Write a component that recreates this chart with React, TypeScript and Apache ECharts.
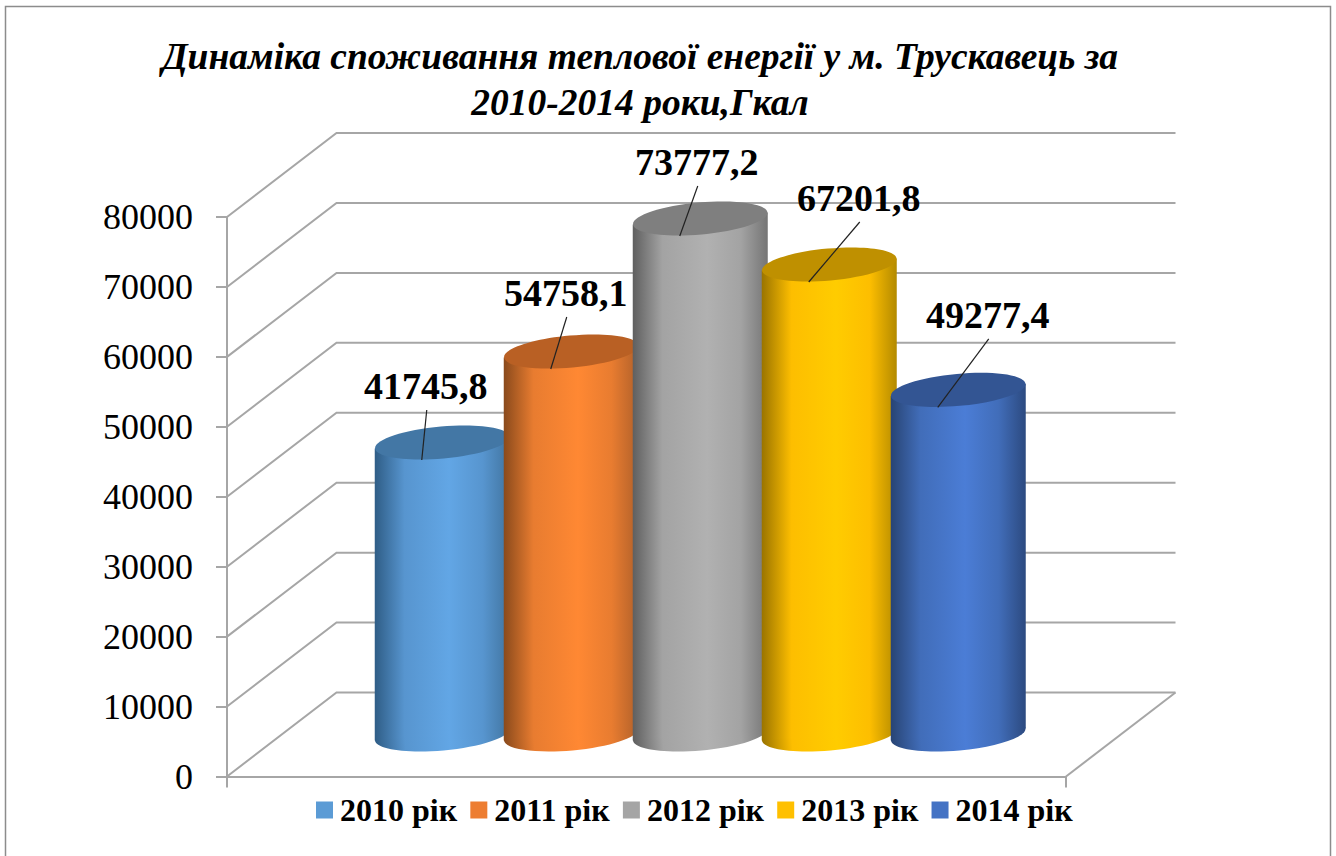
import React, { useEffect, useRef } from "react";
import * as echarts from "echarts";

const titleText = "Динаміка споживання теплової енергії у м. Трускавець за\n2010-2014 роки,Гкал";
const categories = [""];
const seriesNames = ["2010 рік", "2011 рік", "2012 рік", "2013 рік", "2014 рік"];
const seriesValues = [41745.8, 54758.1, 73777.2, 67201.8, 49277.4];
const valueLabels = ["41745,8", "54758,1", "73777,2", "67201,8", "49277,4"];
const yTicks = [0, 10000, 20000, 30000, 40000, 50000, 60000, 70000, 80000];

const legendColors = ["#5b9bd5", "#ed7d31", "#a5a5a5", "#ffc000", "#4472c4"];
const topColors = ["#4377a5", "#b96024", "#7f7f7f", "#bf9000", "#335593"];
const edgeDark = ["#2f5d86", "#8a4a1c", "#5f5f5f", "#9a7400", "#284474"];
const midColors = ["#5795cf", "#e87c30", "#a3a3a3", "#fdbe00", "#416db9"];
const peakColors = ["#62a6e5", "#ff8833", "#b1b1b1", "#ffcc00", "#4b7dd6"];
const edgeRight = ["#41749f", "#b0602a", "#757575", "#b38a00", "#2c4a80"];

// leader line start and label anchor, relative to each cylinder's top centre
const leaderDx = [-16.5, -5.5, -3.5, 29.5, 29.5];
const leaderDy = [-32.5, -34.5, -32.5, -42.5, -51];

const DEPTH_X = 109.5;
const DEPTH_Y = 84;
const PITCH = 129;
const RX = 67.5;
const RY = 16;
const TILT = 0.09;
const FONT = "'Liberation Serif', 'Times New Roman', serif";
const GRID_COLOR = "#a6a6a6";

function renderGrid(params: any, api: any) {
  const v = api.value(1);
  const y = api.coord([0, v])[1];
  const x0 = params.coordSys.x;
  const w = params.coordSys.width;
  const children: any[] = [
    {
      type: "polyline",
      shape: { points: [[x0, y], [x0 + DEPTH_X, y - DEPTH_Y], [x0 + w + DEPTH_X, y - DEPTH_Y]] },
      style: { stroke: GRID_COLOR, lineWidth: 2, fill: "none" },
    },
  ];
  if (v === 0) {
    children.push({
      type: "line",
      shape: { x1: x0 + w, y1: y, x2: x0 + w + DEPTH_X, y2: y - DEPTH_Y },
      style: { stroke: GRID_COLOR, lineWidth: 2 },
    });
  }
  return { type: "group", children };
}

function bodyGradient(i: number) {
  return new echarts.graphic.LinearGradient(0, 0, 1, 0, [
    { offset: 0, color: edgeDark[i] },
    { offset: 0.22, color: midColors[i] },
    { offset: 0.55, color: peakColors[i] },
    { offset: 0.8, color: midColors[i] },
    { offset: 1, color: edgeRight[i] },
  ]);
}

function makeCylinder(i: number) {
  return (_params: any, api: any) => {
    const val = api.value(1);
    const c = api.coord([0, val]);
    const base = api.coord([0, 0]);
    const cx = c[0] + DEPTH_X / 2 - 1 + (i - 2) * PITCH;
    const topY = c[1] - DEPTH_Y / 2;
    const botY = base[1] - DEPTH_Y / 2;
    const dy = RX * Math.sin(TILT);
    const grad = bodyGradient(i);
    const sx = cx + leaderDx[i] + 1;
    const sy = topY + leaderDy[i];
    return {
      type: "group",
      children: [
        {
          type: "ellipse",
          x: cx,
          y: botY,
          rotation: TILT,
          shape: { cx: 0, cy: 0, rx: RX, ry: RY },
          style: { fill: grad },
        },
        {
          type: "polygon",
          shape: {
            points: [
              [cx - RX, topY + dy],
              [cx + RX, topY - dy],
              [cx + RX, botY - dy],
              [cx - RX, botY + dy],
            ],
          },
          style: { fill: grad },
        },
        {
          type: "ellipse",
          x: cx,
          y: topY,
          rotation: TILT,
          shape: { cx: 0, cy: 0, rx: RX, ry: RY },
          style: { fill: topColors[i] },
        },
        {
          type: "line",
          shape: { x1: sx, y1: sy, x2: cx - 20.5, y2: topY + 17.5 },
          style: { stroke: "#222", lineWidth: 1.2 },
        },
        {
          type: "text",
          style: {
            x: sx - 1,
            y: sy - 5,
            text: valueLabels[i],
            fill: "#000",
            font: `bold 38px ${FONT}`,
            align: "center",
            verticalAlign: "bottom",
          },
        },
      ],
    };
  };
}

export default function App() {
  const ref = useRef<HTMLDivElement>(null);
  useEffect(() => {
    if (!ref.current) return;
    const chart = echarts.init(ref.current, undefined, { renderer: "svg" });
    chart.setOption({
      animation: false,
      backgroundColor: "#fff",
      title: {
        text: titleText,
        left: 635,
        top: 28,
        textAlign: "center",
        textStyle: {
          fontFamily: FONT,
          fontSize: 37.5,
          fontWeight: "bold",
          fontStyle: "italic",
          color: "#000",
          lineHeight: 46,
        },
      },
      legend: {
        data: seriesNames,
        left: 311,
        top: 789,
        icon: "rect",
        itemWidth: 17,
        itemHeight: 17,
        itemGap: 13.2,
        textStyle: { fontFamily: FONT, fontSize: 32, fontWeight: "bold", color: "#000", padding: [0, 0, 0, 2] },
      },
      grid: { left: 227, top: 217, width: 839, height: 559.5 },
      xAxis: {
        type: "category",
        data: categories,
        axisLine: { lineStyle: { color: GRID_COLOR, width: 2 } },
        axisTick: { show: true, length: 11, lineStyle: { color: GRID_COLOR, width: 2 } },
        axisLabel: { show: false },
      },
      yAxis: {
        type: "value",
        min: 0,
        max: 80000,
        interval: 10000,
        splitLine: { show: false },
        axisLine: { show: true, lineStyle: { color: GRID_COLOR, width: 2 } },
        axisTick: { show: true, length: 11, lineStyle: { color: GRID_COLOR, width: 2 } },
        axisLabel: {
          margin: 34,
          fontFamily: FONT,
          fontSize: 36,
          color: "#000",
          padding: [3, 0, 0, 0],
          formatter: (v: number) => String(v),
        },
      },
      series: [
        {
          type: "custom",
          name: "grid",
          silent: true,
          z: 1,
          data: yTicks.map((v) => [0, v]),
          renderItem: renderGrid,
        },
        ...seriesNames.map((name, i) => ({
          type: "custom",
          name,
          z: 2 + i,
          silent: true,
          itemStyle: { color: legendColors[i] },
          data: [[0, seriesValues[i]]],
          renderItem: makeCylinder(i),
        })),
      ],
      graphic: [
        {
          type: "polyline",
          silent: true,
          shape: { points: [[5.5, 860], [5.5, 6.5], [1330.5, 6.5], [1330.5, 860]] },
          style: { stroke: "#8c8c8c", lineWidth: 1.5, fill: "none" },
        },
      ],
    });
    return () => chart.dispose();
  }, []);
  return <div ref={ref} style={{ position: "fixed", left: 0, top: 0, width: 1336, height: 856 }} />;
}
